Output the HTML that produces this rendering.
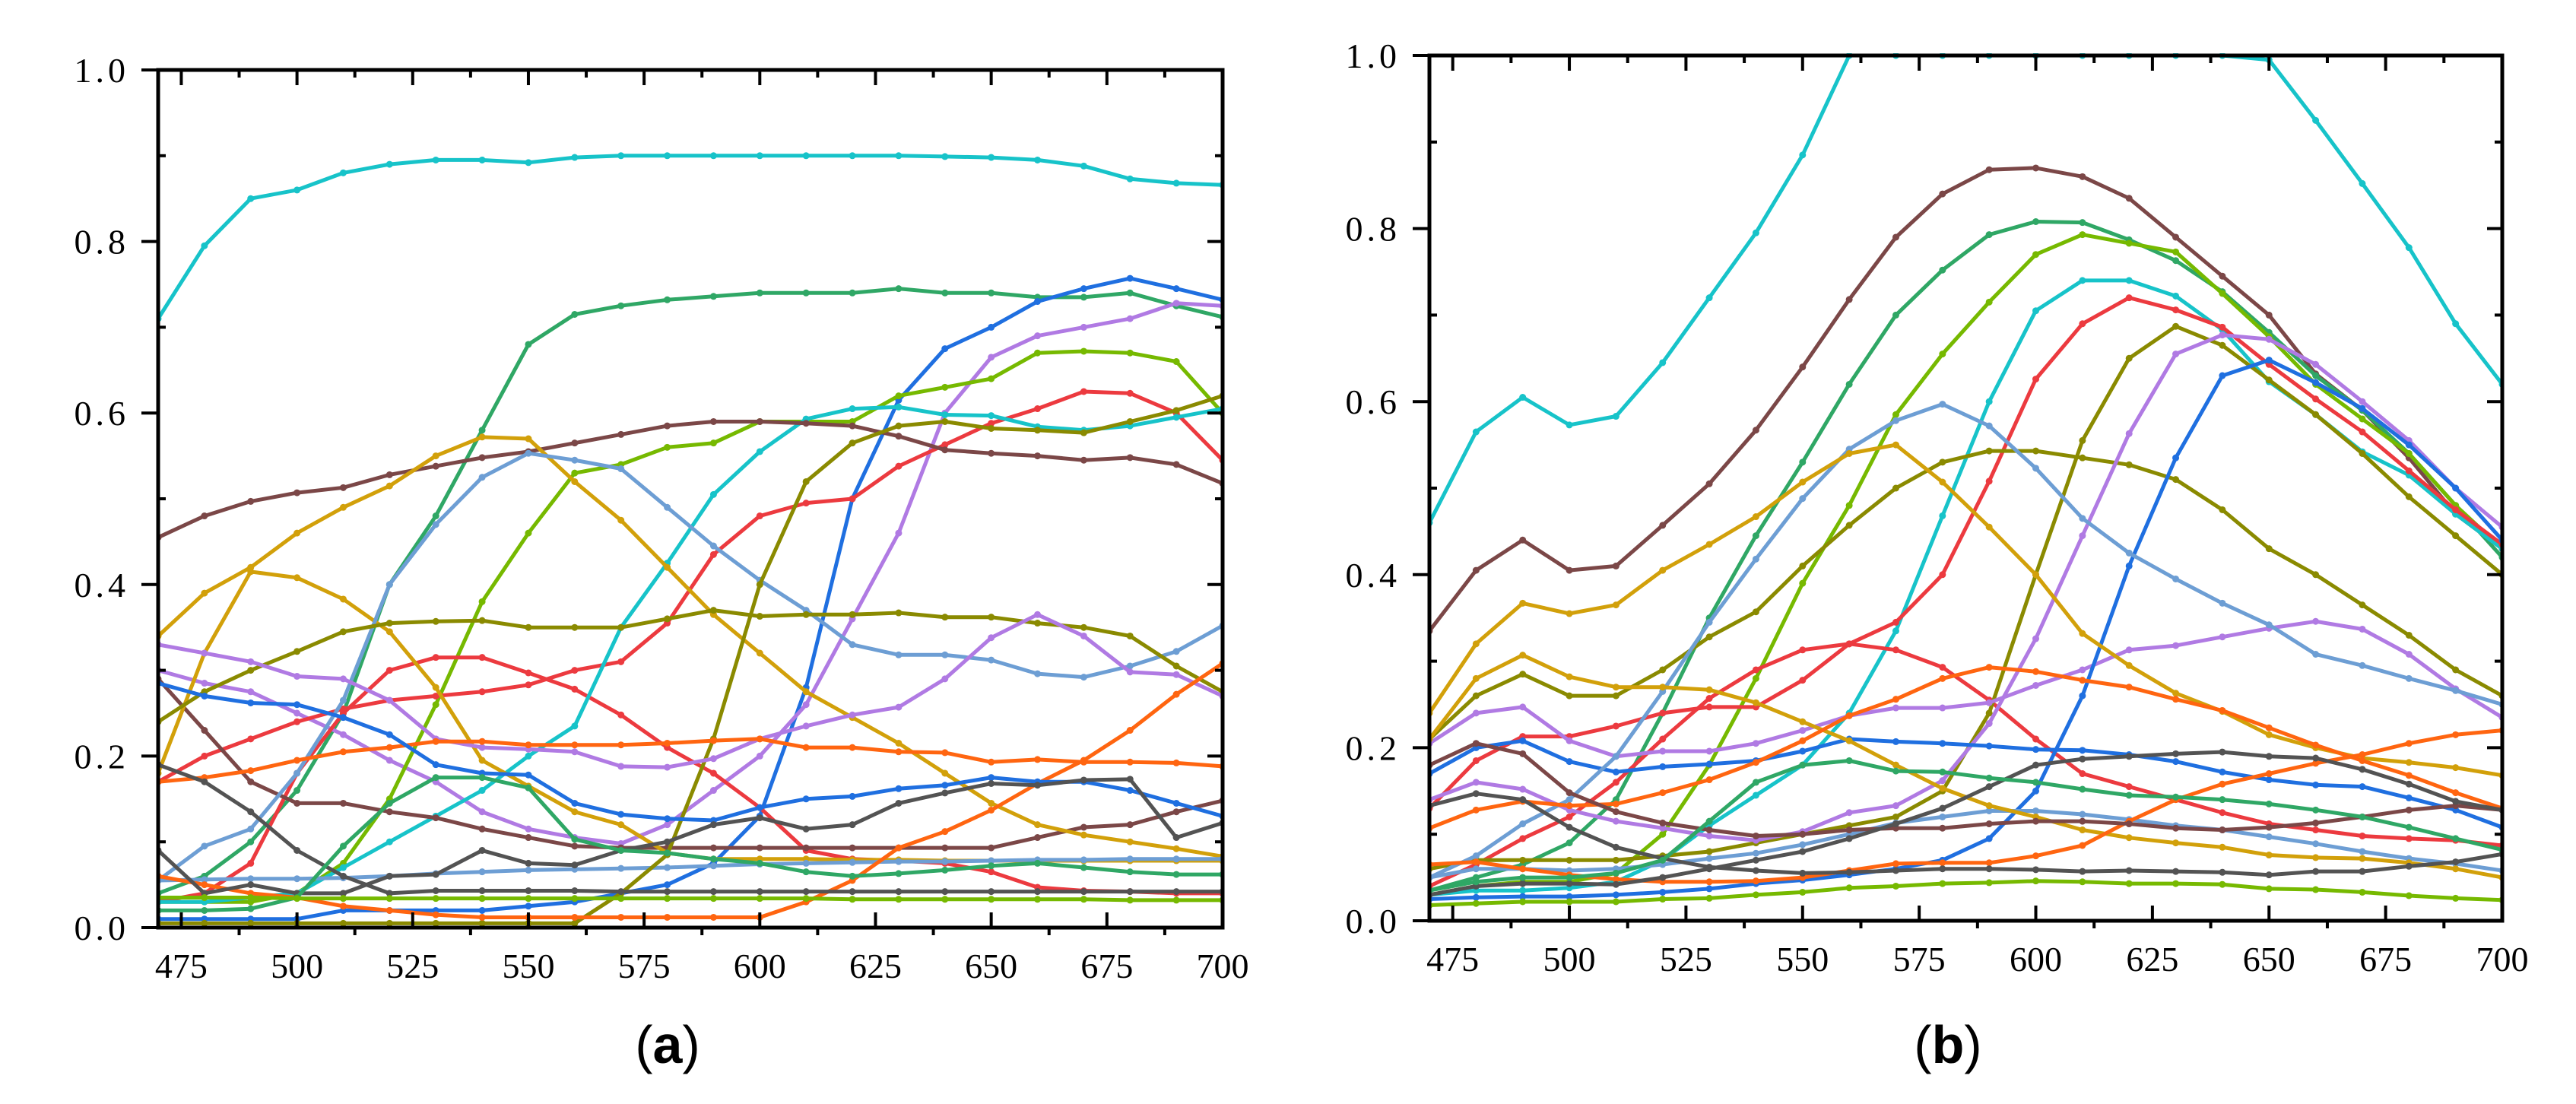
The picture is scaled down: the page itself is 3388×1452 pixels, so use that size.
<!DOCTYPE html>
<html><head><meta charset="utf-8"><style>
html,body{margin:0;padding:0;background:#fff;}
svg{display:block;}
</style></head><body>
<svg id="chart" width="3388" height="1452" viewBox="0 0 3388 1452" xmlns="http://www.w3.org/2000/svg">
<rect width="3388" height="1452" fill="#fff"/>
<g id="pa"></g>
<g id="pb"></g>
<text x="878" y="1398" font-family="Liberation Sans, sans-serif" font-size="70" text-anchor="middle">(<tspan font-weight="bold">a</tspan>)</text>
<text x="2562" y="1398" font-family="Liberation Sans, sans-serif" font-size="70" text-anchor="middle">(<tspan font-weight="bold">b</tspan>)</text>
</svg>
<script>
const wavelengths = [470,480,490,500,510,520,530,540,550,560,570,580,590,600,610,620,630,640,650,660,670,680,690,700];
const xTicks = [475,500,525,550,575,600,625,650,675,700];
const yTicks = [0,0.2,0.4,0.6,0.8,1.0];
const yTickLabels = ["0.0","0.2","0.4","0.6","0.8","1.0"];

// Panel (a)
const aCyan1 = [.71,.795,.85,.86,.88,.89,.895,.895,.892,.898,.9,.9,.9,.9,.9,.9,.9,.899,.898,.895,.888,.873,.868,.866];
const aGreen1 = [.04,.06,.1,.16,.25,.4,.48,.58,.68,.715,.725,.732,.736,.74,.74,.74,.745,.74,.74,.735,.735,.74,.725,.712];
const aBlue1 = [.01,.01,.01,.01,.02,.02,.02,.02,.025,.03,.04,.05,.075,.13,.28,.5,.615,.675,.7,.73,.745,.757,.745,.732];
const aPurple1 = [.3,.285,.275,.25,.225,.195,.17,.135,.115,.105,.098,.12,.16,.2,.26,.36,.46,.6,.665,.69,.7,.71,.728,.725];
const aYg1 = [.03,.03,.03,.04,.075,.15,.26,.38,.46,.53,.54,.56,.565,.59,.59,.59,.62,.63,.64,.67,.672,.67,.66,.6];
const aRed1 = [.03,.04,.075,.18,.25,.3,.315,.315,.297,.278,.248,.21,.18,.14,.09,.08,.078,.075,.065,.047,.043,.042,.04,.04];
const aRed2 = [.17,.2,.22,.24,.255,.265,.27,.275,.283,.3,.31,.355,.435,.48,.495,.5,.538,.563,.588,.605,.625,.623,.6,.545];
const aCyan2 = [.03,.03,.035,.04,.07,.1,.13,.16,.2,.235,.35,.425,.505,.555,.593,.605,.607,.598,.597,.584,.58,.585,.595,.605];
const aBrown1 = [.455,.48,.497,.507,.513,.528,.538,.548,.555,.565,.575,.585,.59,.59,.588,.585,.573,.557,.553,.55,.545,.548,.54,.518];
const aBrown2 = [.29,.23,.17,.145,.145,.135,.128,.115,.105,.095,.093,.093,.093,.093,.093,.093,.093,.093,.093,.105,.117,.12,.135,.148];
const aGold1 = [.34,.39,.42,.46,.49,.515,.55,.572,.57,.52,.475,.42,.365,.32,.275,.245,.215,.18,.145,.12,.108,.1,.092,.083];
const aGold2 = [.18,.32,.415,.408,.383,.345,.28,.195,.165,.135,.12,.087,.08,.08,.08,.079,.079,.078,.078,.078,.078,.078,.078,.078];
const aLblue1 = [.055,.095,.115,.18,.265,.4,.47,.525,.553,.545,.535,.49,.445,.405,.37,.33,.318,.318,.312,.296,.292,.305,.322,.352];
const aLblue2 = [.055,.056,.057,.057,.058,.06,.063,.065,.067,.068,.069,.07,.072,.074,.075,.076,.077,.077,.078,.079,.079,.08,.08,.08];
const aOlive1 = [.24,.275,.3,.322,.345,.355,.357,.358,.35,.35,.35,.36,.37,.363,.365,.365,.367,.362,.362,.355,.35,.34,.305,.275];
const aOlive2 = [.005,.005,.005,.005,.005,.005,.005,.005,.005,.005,.04,.085,.22,.4,.52,.565,.585,.59,.582,.58,.577,.59,.603,.62];
const aPurple2 = [.33,.32,.31,.293,.29,.265,.22,.21,.208,.205,.188,.187,.197,.22,.235,.248,.257,.29,.338,.365,.34,.298,.295,.27];
const aOrange1 = [.17,.175,.183,.195,.205,.21,.217,.217,.213,.213,.213,.215,.218,.22,.21,.21,.205,.204,.193,.196,.193,.193,.192,.188];
const aOrange2 = [.06,.05,.04,.035,.025,.02,.015,.012,.012,.012,.012,.012,.012,.012,.03,.055,.093,.112,.137,.168,.195,.23,.272,.308];
const aBlue2 = [.285,.27,.262,.26,.245,.225,.19,.18,.178,.145,.132,.127,.125,.14,.15,.153,.162,.166,.175,.17,.17,.16,.145,.13];
const aGray1 = [.19,.17,.135,.09,.06,.04,.043,.043,.043,.043,.042,.042,.042,.042,.042,.042,.042,.042,.042,.042,.042,.042,.042,.042];
const aGray2 = [.09,.04,.05,.04,.04,.06,.062,.09,.075,.073,.09,.1,.12,.128,.115,.12,.145,.157,.168,.166,.172,.173,.105,.122];
const aGreen2 = [.02,.02,.022,.035,.095,.145,.175,.175,.163,.103,.09,.087,.08,.075,.065,.06,.063,.067,.072,.075,.07,.065,.062,.062];
const aYg2 = [.035,.035,.035,.034,.034,.034,.034,.034,.034,.034,.034,.034,.034,.034,.034,.033,.033,.033,.033,.033,.033,.032,.032,.032];

// Panel (b)
const bCyan1 = [.46,.565,.605,.573,.583,.645,.72,.795,.885,1,1,1,1,1,1,1,1,1,.995,.925,.852,.778,.69,.62];
const bBrown1 = [.335,.405,.44,.405,.41,.457,.505,.567,.64,.718,.79,.84,.868,.87,.86,.835,.79,.745,.7,.632,.59,.535,.47,.43];
const bGreen1 = [.035,.05,.065,.09,.14,.24,.35,.445,.53,.62,.7,.752,.793,.808,.807,.787,.763,.727,.68,.63,.59,.54,.48,.42];
const bYg1 = [.03,.04,.045,.045,.055,.1,.18,.28,.39,.48,.585,.655,.715,.77,.793,.783,.773,.725,.675,.62,.58,.54,.48,.43];
const bCyan2 = [.03,.035,.035,.038,.045,.07,.11,.145,.18,.24,.335,.468,.6,.705,.74,.74,.722,.683,.623,.585,.542,.515,.47,.43];
const bRed1 = [.04,.065,.095,.12,.16,.21,.257,.29,.313,.32,.313,.293,.255,.21,.17,.155,.14,.125,.112,.105,.098,.095,.093,.087];
const bRed2 = [.13,.185,.213,.213,.225,.24,.247,.247,.278,.32,.345,.4,.508,.626,.69,.72,.706,.686,.643,.603,.565,.52,.475,.435];
const bOlive1 = [.21,.26,.285,.26,.26,.29,.328,.357,.41,.457,.5,.53,.543,.543,.535,.527,.51,.475,.43,.4,.365,.33,.29,.26];
const bOlive2 = [.06,.07,.07,.07,.07,.075,.08,.09,.1,.11,.12,.15,.24,.4,.555,.65,.687,.665,.625,.585,.54,.49,.445,.4];
const bPurple1 = [.14,.16,.152,.128,.115,.107,.098,.093,.103,.125,.133,.162,.228,.326,.445,.563,.655,.677,.672,.643,.6,.555,.5,.455];
const bPurple2 = [.205,.24,.247,.208,.19,.196,.196,.205,.22,.237,.246,.246,.252,.272,.29,.313,.318,.328,.338,.346,.337,.308,.268,.235];
const bBlue1 = [.025,.027,.028,.028,.03,.033,.037,.043,.047,.053,.06,.07,.095,.15,.26,.41,.535,.63,.648,.622,.592,.55,.5,.44];
const bBlue2 = [.17,.2,.208,.184,.172,.178,.181,.185,.196,.21,.207,.205,.202,.198,.197,.192,.184,.172,.163,.157,.155,.142,.128,.108];
const bLblue1 = [.05,.075,.112,.14,.19,.265,.345,.418,.488,.545,.578,.597,.572,.523,.465,.425,.395,.367,.342,.308,.295,.28,.266,.25];
const bLblue2 = [.05,.06,.06,.058,.06,.065,.072,.078,.088,.1,.113,.12,.127,.127,.123,.117,.11,.105,.097,.089,.08,.072,.066,.058];
const bGold1 = [.24,.32,.367,.355,.365,.405,.435,.467,.507,.54,.55,.507,.455,.4,.332,.295,.263,.242,.215,.2,.188,.183,.177,.168];
const bGold2 = [.21,.28,.307,.282,.27,.27,.267,.252,.23,.208,.18,.153,.133,.12,.105,.096,.09,.085,.076,.073,.072,.067,.06,.05];
const bOrange1 = [.107,.128,.138,.133,.135,.148,.163,.183,.208,.237,.256,.28,.293,.288,.278,.27,.256,.243,.223,.203,.185,.168,.148,.13];
const bOrange2 = [.065,.068,.06,.053,.048,.045,.045,.046,.05,.058,.066,.067,.067,.075,.087,.115,.14,.158,.17,.182,.192,.205,.215,.22];
const bBrown2 = [.18,.205,.193,.148,.126,.113,.105,.098,.1,.105,.107,.107,.112,.115,.115,.112,.107,.105,.108,.113,.12,.128,.133,.128];
const bGray1 = [.133,.147,.14,.108,.085,.072,.062,.058,.055,.056,.058,.06,.06,.059,.057,.058,.057,.056,.053,.057,.057,.063,.068,.077];
const bGray2 = [.03,.04,.043,.043,.042,.05,.06,.07,.08,.095,.112,.13,.155,.18,.187,.19,.193,.195,.19,.188,.175,.158,.138,.128];
const bGreen2 = [.035,.045,.05,.05,.055,.07,.115,.16,.18,.185,.173,.172,.165,.16,.152,.145,.143,.14,.135,.128,.12,.108,.095,.082];
const bYg2 = [.018,.02,.022,.022,.022,.025,.026,.03,.033,.038,.04,.043,.044,.046,.045,.043,.043,.042,.037,.036,.033,.029,.026,.024];

const C = {cyan:"#17c3c9",green:"#2fa765",yg:"#76b900",blue:"#1f6fe0",purple:"#b07ae3",red:"#ec3a3f",brown:"#7b4747",gold:"#d2a00a",lblue:"#6d9ed4",olive:"#8a8a00",orange:"#ff6510",gray:"#535353"};

const seriesA = [
 ["a-cyan-1",aCyan1,C.cyan],["a-green-1",aGreen1,C.green],["a-blue-1",aBlue1,C.blue],["a-purple-1",aPurple1,C.purple],
 ["a-yg-1",aYg1,C.yg],["a-red-1",aRed1,C.red],["a-red-2",aRed2,C.red],["a-cyan-2",aCyan2,C.cyan],
 ["a-brown-1",aBrown1,C.brown],["a-brown-2",aBrown2,C.brown],["a-gold-1",aGold1,C.gold],["a-gold-2",aGold2,C.gold],
 ["a-lblue-1",aLblue1,C.lblue],["a-lblue-2",aLblue2,C.lblue],["a-olive-1",aOlive1,C.olive],["a-olive-2",aOlive2,C.olive],
 ["a-purple-2",aPurple2,C.purple],["a-orange-1",aOrange1,C.orange],["a-orange-2",aOrange2,C.orange],["a-blue-2",aBlue2,C.blue],
 ["a-gray-1",aGray1,C.gray],["a-gray-2",aGray2,C.gray],["a-green-2",aGreen2,C.green],["a-yg-2",aYg2,C.yg]
];
const seriesB = [
 ["b-cyan-1",bCyan1,C.cyan],["b-brown-1",bBrown1,C.brown],["b-green-1",bGreen1,C.green],["b-yg-1",bYg1,C.yg],
 ["b-cyan-2",bCyan2,C.cyan],["b-red-1",bRed1,C.red],["b-red-2",bRed2,C.red],["b-olive-1",bOlive1,C.olive],
 ["b-olive-2",bOlive2,C.olive],["b-purple-1",bPurple1,C.purple],["b-purple-2",bPurple2,C.purple],["b-blue-1",bBlue1,C.blue],
 ["b-blue-2",bBlue2,C.blue],["b-lblue-1",bLblue1,C.lblue],["b-lblue-2",bLblue2,C.lblue],["b-gold-1",bGold1,C.gold],
 ["b-gold-2",bGold2,C.gold],["b-orange-1",bOrange1,C.orange],["b-orange-2",bOrange2,C.orange],["b-brown-2",bBrown2,C.brown],
 ["b-gray-1",bGray1,C.gray],["b-gray-2",bGray2,C.gray],["b-green-2",bGreen2,C.green],["b-yg-2",bYg2,C.yg]
];

const NS = "http://www.w3.org/2000/svg";
function mk(tag, attrs, parent){ const e=document.createElementNS(NS,tag); for(const k in attrs) e.setAttribute(k,attrs[k]); parent.appendChild(e); return e; }

function drawPanel(g, series, L, R, T, B, prefix){
  const xs = v => L + (v-470)/(700-470)*(R-L);
  const ys = v => B - v*(B-T);
  const clip = mk("clipPath",{id:prefix+"clip"},g);
  mk("rect",{x:L,y:T-3,width:R-L,height:B-T+3},clip);
  const lines = mk("g",{"clip-path":"url(#"+prefix+"clip)"},g);
  
  
  series.forEach(s=>{
    const vals=s[1];
    const pts = vals.map((v,i)=>xs(wavelengths[i]).toFixed(1)+","+ys(v).toFixed(1)).join(" ");
    const pl = mk("polyline",{points:pts,fill:"none",stroke:s[2],"stroke-width":5,"stroke-linejoin":"round"},lines);
    
    
    vals.forEach((v,i)=>{
      const m = mk("circle",{cx:xs(wavelengths[i]),cy:ys(v),r:4.5,fill:s[2]},lines);
      
      
    });
  });
  const fr = mk("rect",{x:L,y:T,width:R-L,height:B-T,fill:"none",stroke:"#000","stroke-width":5},g);
  
  
  for(let w=475; w<=700; w+=12.5){
    const x=xs(w); const major = (w%25===0);
    if(major){
      mk("line",{x1:x,y1:B,x2:x,y2:B-20,stroke:"#000","stroke-width":4},g);
      mk("line",{x1:x,y1:T,x2:x,y2:T+20,stroke:"#000","stroke-width":4},g);
    } else {
      mk("line",{x1:x,y1:B,x2:x,y2:B+10,stroke:"#000","stroke-width":4},g);
      mk("line",{x1:x,y1:T,x2:x,y2:T+10,stroke:"#000","stroke-width":4},g);
    }
  }
  xTicks.forEach(w=>{
    const t = mk("text",{x:xs(w),y:B+66,"font-family":"Liberation Serif, serif","font-size":46,"text-anchor":"middle"},g);
    t.textContent = String(w);
    
    
  });
  for(let k=0;k<=10;k++){
    const v=k/10, y=ys(v), major=(k%2===0);
    if(major){
      mk("line",{x1:L-22,y1:y,x2:L,y2:y,stroke:"#000","stroke-width":4},g);
      mk("line",{x1:R,y1:y,x2:R-20,y2:y,stroke:"#000","stroke-width":4},g);
    } else {
      mk("line",{x1:L,y1:y,x2:L+10,y2:y,stroke:"#000","stroke-width":4},g);
      mk("line",{x1:R,y1:y,x2:R-10,y2:y,stroke:"#000","stroke-width":4},g);
    }
  }
  yTicks.forEach((v,i)=>{
    const t = mk("text",{x:L-38,y:ys(v)+16,"font-family":"Liberation Serif, serif","font-size":46,"text-anchor":"end","letter-spacing":"5"},g);
    t.textContent = yTickLabels[i];
    
    
  });
}
drawPanel(document.getElementById("pa"), seriesA, 208, 1608, 92, 1220, "panel-a");
drawPanel(document.getElementById("pb"), seriesB, 1880, 3291, 73, 1211, "panel-b");
</script>
</body></html>
